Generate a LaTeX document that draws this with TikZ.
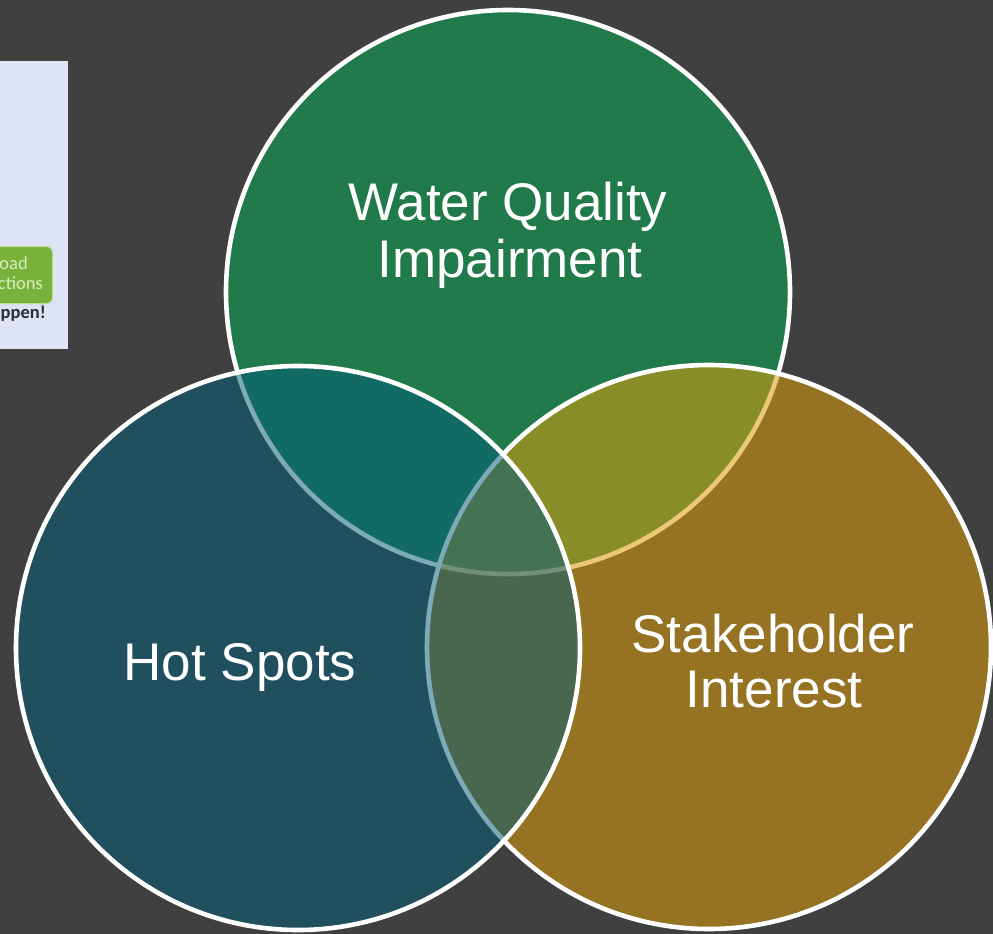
\documentclass[tikz,border=0pt]{standalone}
\usepackage{fontspec}
\setmainfont{Liberation Sans}
\newfontfamily\btnfont{Carlito}
\definecolor{bgc}{RGB}{64,64,64}
\definecolor{topc}{RGB}{33,122,74}
\definecolor{rightc}{RGB}{222,158,11}
\definecolor{leftc}{RGB}{4,93,122}
\definecolor{lavc}{RGB}{222,227,245}
\definecolor{btnc}{RGB}{120,178,58}
\definecolor{btnedge}{RGB}{190,220,150}
\definecolor{btntext}{RGB}{218,236,196}
\definecolor{darktext}{RGB}{45,45,55}
\tikzset{
  venn/.style={circle, draw=white, line width=4.6pt, inner sep=0pt, outer sep=0pt, minimum size=564pt},
  vlabel/.style={anchor=base, text=white, inner sep=0pt, font=\fontsize{53}{60}\selectfont},
  snip/.style={anchor=base east, inner sep=0pt, font=\btnfont\fontsize{18.5}{18.5}\selectfont},
}
\begin{document}
\begin{tikzpicture}[x=1pt,y=-1pt]
\fill[bgc] (0,0) rectangle (993,934);
\useasboundingbox (0,0) rectangle (993,934);
% partial picture at left edge
\begin{scope}
  \clip (0,61) rectangle (68,349);
  \fill[lavc] (0,61) rectangle (68,349);
  \node[anchor=north east, fill=btnc, draw=btnedge, line width=1pt, rounded corners=6pt,
        minimum width=80pt, minimum height=57pt, inner sep=0pt] (btn) at (53,246) {};
  \node[snip, text=btntext] (t1) at (28,269) {oad};
  \node[snip, text=btntext] (t2) at (43,289) {ctions};
  \node[snip, text=darktext, font=\btnfont\bfseries\fontsize{18.5}{18.5}\selectfont] (t3) at (46,318) {ppen!};
\end{scope}
% Venn circles
\node[venn, fill=topc] (wq) at (508,292) {};
\node[venn, fill=rightc, fill opacity=0.55] (si) at (709,647) {};
\node[venn, fill=leftc, fill opacity=0.52] (hs) at (298,648) {};
% labels
\node[vlabel] (wq1) at (508,220) {Water Quality};
\node[vlabel] (wq2) at (510,277) {Impairment};
\node[vlabel] (hs1) at (240,680) {Hot Spots};
\node[vlabel] (si1) at (773,652) {Stakeholder};
\node[vlabel] (si2) at (774,707) {Interest};
\end{tikzpicture}
\end{document}
